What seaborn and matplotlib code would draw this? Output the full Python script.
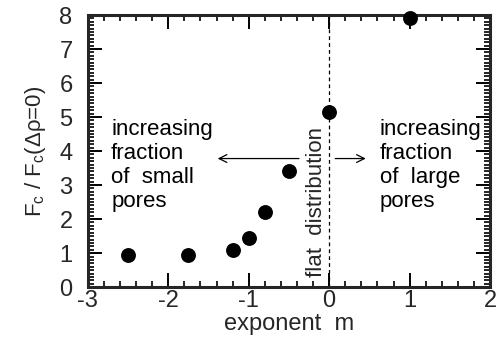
import matplotlib
matplotlib.use("Agg")
import matplotlib.pyplot as plt
import seaborn as sns
import pandas as pd
from matplotlib.ticker import MultipleLocator

exponent_m = [-2.5, -1.75, -1.2, -1.0, -0.8, -0.5, 0.0, 1.0]
fc_ratio = [0.93, 0.93, 1.08, 1.45, 2.2, 3.4, 5.15, 7.9]
x_ticks = [-3, -2, -1, 0, 1, 2]
y_ticks = [0, 1, 2, 3, 4, 5, 6, 7, 8]

sns.set_style("ticks")
plt.rcParams['font.family'] = ['Liberation Sans', 'DejaVu Sans']
plt.rcParams['mathtext.fontset'] = 'custom'
plt.rcParams['mathtext.rm'] = 'Liberation Sans'
plt.rcParams['axes.unicode_minus'] = False

df = pd.DataFrame({"m": exponent_m, "F": fc_ratio})

fig = plt.figure(figsize=(4.96, 3.41), dpi=100)
ax = fig.add_axes([0.177, 0.158, 0.811, 0.798])

ax.axvline(0, color='black', lw=0.9, ls=(0, (3, 2.5)), zorder=1)
sns.scatterplot(data=df, x="m", y="F", ax=ax, color='black', s=115,
                edgecolor='black', linewidth=0, zorder=3, clip_on=False)

ax.set_xlim(-3, 2)
ax.set_ylim(0, 8)
ax.set_xticks(x_ticks)
ax.set_xticklabels([str(t) for t in x_ticks])
ax.set_yticks(y_ticks)
ax.set_yticklabels([str(t) for t in y_ticks])
ax.xaxis.set_minor_locator(MultipleLocator(0.2))
ax.yaxis.set_minor_locator(MultipleLocator(0.1))

for s in ax.spines.values():
    s.set_linewidth(2.2)
    s.set_visible(True)
ax.tick_params(which='both', direction='in', top=True, right=True, color='black')
ax.tick_params(which='major', length=10, width=1.4)
ax.tick_params(which='minor', length=4.5, width=1.2)
ax.tick_params(axis='x', which='major', labelsize=17, pad=2)
ax.tick_params(axis='y', which='major', labelsize=17, pad=11)

ax.set_xlabel("exponent  m", fontsize=17, labelpad=1)
ax.set_ylabel(r"F$_{\mathrm{c}}$ / F$_{\mathrm{c}}$(Δρ=0)", fontsize=16, labelpad=8)

txt_kw = dict(fontsize=16, linespacing=1.2, va='top', ha='left', color='black')
ax.text(-2.71, 4.95, "increasing\nfraction\nof  small\npores", **txt_kw)
ax.text(0.63, 4.95, "increasing\nfraction\nof  large\npores", **txt_kw)
ax.text(-0.16, 2.5, "flat  distribution", rotation=90, fontsize=16,
        ha='center', va='center')

ax.annotate("", xy=(-1.42, 3.78), xytext=(-0.34, 3.78),
            arrowprops=dict(arrowstyle='->', color='black', lw=0.9,
                            mutation_scale=14))
ax.annotate("", xy=(0.49, 3.78), xytext=(0.04, 3.78),
            arrowprops=dict(arrowstyle='->', color='black', lw=0.9,
                            mutation_scale=14))

fig.savefig("out.png", dpi=100)
